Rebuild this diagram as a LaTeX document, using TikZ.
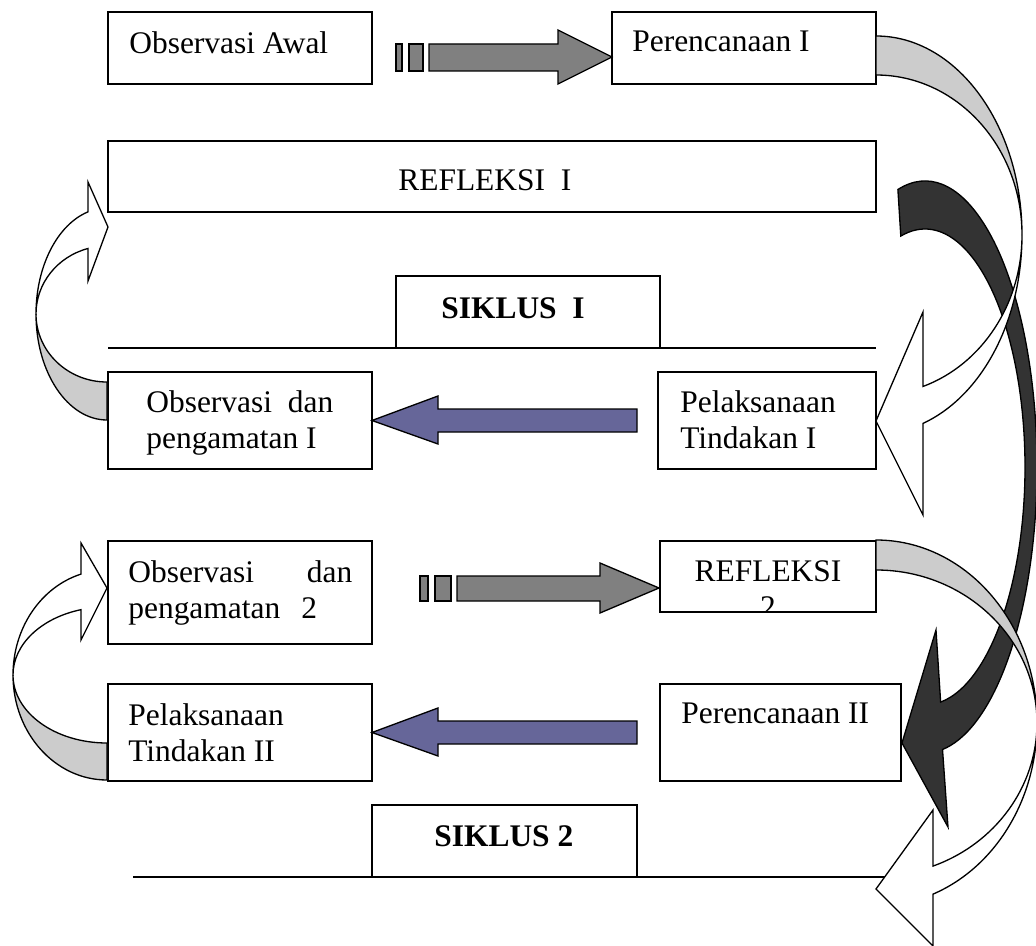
\documentclass[tikz,border=0pt]{standalone}
\usepackage{fontspec}
\setmainfont{Liberation Serif}
\usetikzlibrary{positioning}
\definecolor{lightband}{RGB}{204,204,204}
\definecolor{darkband}{RGB}{51,51,51}
\definecolor{stripegray}{RGB}{128,128,128}
\definecolor{bluearrow}{RGB}{102,102,153}
\tikzset{
  box/.style 2 args={draw, line width=1.1pt, inner sep=0pt, outer sep=0pt, anchor=north west,
    minimum width=#1*0.02cm, minimum height=#2*0.02cm},
  lbl/.style={inner sep=0pt, anchor=north west, align=left, font=\fontsize{17.9}{20.4}\selectfont},
  blk/.style={draw, line width=0.75pt, line join=miter},
}
\begin{document}
\begin{tikzpicture}[x=0.02cm, y=-0.02cm]
\useasboundingbox (0,0) rectangle (1036,946);

% boxes
\node (awal)  [box={264}{72}] at (108,12)  {};
\node (renc1) [box={264}{72}] at (612,12)  {};
\node (ref1)  [box={768}{71}] at (108,141) {};
\node (sik1)  [box={264}{72}] at (396,276) {};
\node (obs1)  [box={264}{97}] at (108,372) {};
\node (pel1)  [box={218}{97}] at (658,372) {};
\node (obs2)  [box={264}{103}] at (108,541) {};
\node (ref2)  [box={216}{71}] at (660,541) {};
\node (pel2)  [box={264}{97}] at (108,684) {};
\node (renc2) [box={241}{97}] at (660,684) {};
\node (sik2)  [box={265}{72}] at (372,805) {};

\draw[line width=1.1pt] (sik1.south west -| awal.west) -- (sik1.south west -| renc1.east);
\draw[line width=1.1pt] (133,877) -- (900,877);

% texts
\node (tawal)  [lbl] at ([shift={(21,19)}]awal.north west)  {Observasi Awal};
\node (trenc1) [lbl] at ([shift={(20,19)}]renc1.north west) {Perencanaan I};
\node (tref1)  [lbl] at ([shift={(290,28.5)}]ref1.north west) {REFLEKSI\ \ I};
\node (tsik1)  [lbl, font=\fontsize{17.9}{20.4}\selectfont\bfseries] at ([shift={(45,21)}]sik1.north west) {SIKLUS\ \ I};
\node (tobs1)  [lbl] at ([shift={(38,18)}]obs1.north west)  {Observasi\ \ dan\\pengamatan I};
\node (tpel1)  [lbl] at ([shift={(22,18)}]pel1.north west)  {Pelaksanaan\\Tindakan I};
\node (tobs2)  [lbl, text width=4.48cm] at ([shift={(20,19)}]obs2.north west) {Observasi\hfill dan\\pengamatan\ \ 2};
\begin{scope}
  \clip (ref2.north west) rectangle (ref2.south east);
  \node (tref2) [lbl, anchor=north, align=center] at ([shift={(0,19)}]ref2.north) {REFLEKSI\\2};
\end{scope}
\node (tpel2)  [lbl] at ([shift={(20,19)}]pel2.north west)  {Pelaksanaan\\Tindakan II};
\node (trenc2) [lbl] at ([shift={(21,19)}]renc2.north west) {Perencanaan II};
\node (tsik2)  [lbl, font=\fontsize{17.9}{20.4}\selectfont\bfseries] at ([shift={(62,20)}]sik2.north west) {SIKLUS 2};

% striped arrows
\coordinate (t1) at ([shift={(0,9)}]renc1.west);
\draw[blk, fill=stripegray] ([shift={(-216,-13)}]t1) rectangle ++(6,27);
\draw[blk, fill=stripegray] ([shift={(-203,-13)}]t1) rectangle ++(14,27);
\draw[blk, fill=stripegray] (t1) -- ++(-54,-27) -- ++(0,14) -- ++(-129,0) -- ++(0,27) -- ++(129,0) -- ++(0,13) -- cycle;

\coordinate (t2) at ([shift={(-1,11.5)}]ref2.west);
\draw[blk, fill=stripegray] ([shift={(-239,-12)}]t2) rectangle ++(8,25);
\draw[blk, fill=stripegray] ([shift={(-224,-12)}]t2) rectangle ++(16,25);
\draw[blk, fill=stripegray] (t2) -- ++(-59,-25) -- ++(0,13) -- ++(-143,0) -- ++(0,25) -- ++(143,0) -- ++(0,12) -- cycle;

% blue arrows
\draw[blk, fill=bluearrow] (obs1.east) -- ++(66,-24.5) -- ++(0,13) -- ++(199,0) -- ++(0,23) -- ++(-199,0) -- ++(0,12) -- cycle;
\draw[blk, fill=bluearrow] (pel2.east) -- ++(66,-24.5) -- ++(0,13) -- ++(199,0) -- ++(0,23) -- ++(-199,0) -- ++(0,12) -- cycle;

% dark curved arrow
\draw[blk, fill=darkband] ({925+112*cos(-104)},{467+286*sin(-104)})
  arc[start angle=-104, end angle=81, x radius=112, y radius=286]
  -- (948,827) -- (902,743) -- (936,630)
  -- ({925+100*cos(81)},{467+238*sin(81)})
  arc[start angle=81, end angle=-104, x radius=100, y radius=238] -- cycle;

% light curved arrow, top right
\draw[blk, fill=lightband] (876,36) arc[start angle=-90, end angle=0, x radius=146, y radius=199]
  arc[start angle=0, end angle=-90, x radius=146, y radius=160] -- cycle;
\draw[blk, fill=white] (1022,235) arc[start angle=0, end angle=71.2, x radius=146, y radius=199]
  -- (923,515) -- (876,421) -- (923,312)
  -- ({876+146*cos(71.2)},{235+160*sin(71.2)})
  arc[start angle=71.2, end angle=0, x radius=146, y radius=160] -- cycle;

% light curved arrow, bottom right
\draw[blk, fill=lightband] (876,540) arc[start angle=-90, end angle=0, x radius=161, y radius=183]
  arc[start angle=0, end angle=-90, x radius=161, y radius=153] -- cycle;
\draw[blk, fill=white] (1037,723) arc[start angle=0, end angle=69.3, x radius=161, y radius=183]
  -- (933,946) -- (876,889) -- (933,810)
  -- ({876+161*cos(69.3)},{723+153*sin(69.3)})
  arc[start angle=69.3, end angle=0, x radius=161, y radius=153] -- cycle;

% left curved arrows
\draw[blk, fill=lightband] (107,420) arc[start angle=90, end angle=180, x radius=71, y radius=106]
  arc[start angle=180, end angle=90, x radius=71, y radius=68] -- cycle;
\draw[blk, fill=white] (36,314) arc[start angle=180, end angle=254.5, x radius=71, y radius=106]
  -- (88,182) -- (108,227) -- (88,281)
  -- ({107+71*cos(254.5)},{314+68*sin(254.5)})
  arc[start angle=254.5, end angle=180, x radius=71, y radius=68] -- cycle;

\draw[blk, fill=lightband] (107,780) arc[start angle=90, end angle=180, x radius=94, y radius=105]
  arc[start angle=180, end angle=90, x radius=94, y radius=68] -- cycle;
\draw[blk, fill=white] (13,675) arc[start angle=180, end angle=253.9, x radius=94, y radius=105]
  -- (81,543) -- (107,588) -- (81,640)
  -- ({107+94*cos(253.9)},{675+68*sin(253.9)})
  arc[start angle=253.9, end angle=180, x radius=94, y radius=68] -- cycle;
\end{tikzpicture}
\end{document}
